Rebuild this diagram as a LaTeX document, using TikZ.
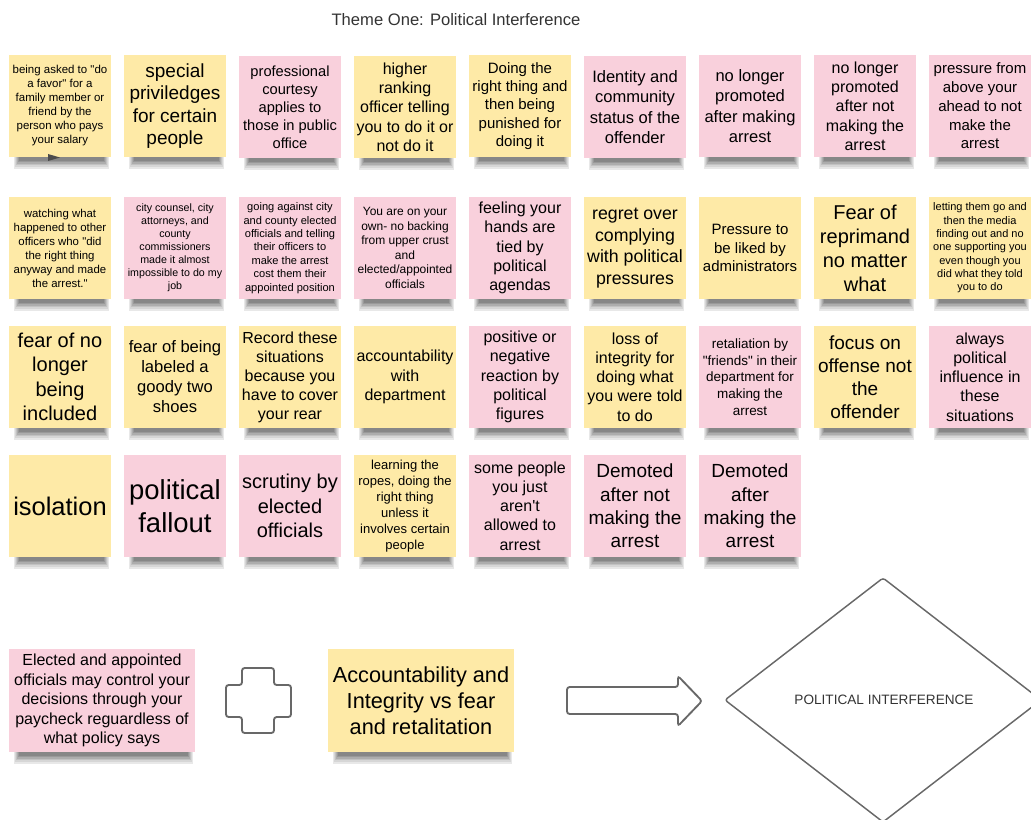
\documentclass[tikz,border=0pt]{standalone}
\usepackage{fontspec}
\setmainfont{Liberation Sans}[Ligatures=TeXOff]
\definecolor{stickyY}{HTML}{FEEAA7}
\definecolor{stickyP}{HTML}{F9D0DC}
\definecolor{inkgray}{HTML}{333333}
\definecolor{linegray}{HTML}{686868}
\newcommand\fs[2]{\fontsize{#1pt}{#2pt}\selectfont}
\begin{document}
\begin{tikzpicture}[x=0.75pt,y=-0.75pt,
  note/.style={minimum width=76.5pt, minimum height=76.5pt, inner sep=0pt,
               align=center, text=black},
  yel/.style={note, fill=stickyY},
  pnk/.style={note, fill=stickyP},
  wide/.style={minimum width=139.5pt, minimum height=77.25pt},
  outline/.style={draw=linegray, line width=1.4pt, rounded corners=2pt}]
\useasboundingbox (0,0) rectangle (1031,820);

\node[text=inkgray, font={\fs{12.45}{15}}] (title) at (456,20) {Theme One: Political Interference};

% row 1
\node[yel, font={\fs{8.6}{10.5}}]   (n1) at (60,106)  {being asked to "do\\a favor" for a\\family member or\\friend by the\\person who pays\\your salary};
\node[yel, font={\fs{14.25}{16.9}}] (n2) at (175,106) {special\\priviledges\\for certain\\people};
\node[pnk, font={\fs{11}{13.5}}]    (n3) at (290,107) {professional\\courtesy\\applies to\\those in public\\office};
\node[yel, font={\fs{12}{14.5}}]    (n4) at (405,107) {higher\\ranking\\officer telling\\you to do it or\\not do it};
\node[yel, font={\fs{11.25}{13.8}}] (n5) at (520,106) {Doing the\\right thing and\\then being\\punished for\\doing it};
\node[pnk, font={\fs{12.4}{15.4}}]  (n6) at (635,107) {Identity and\\community\\status of the\\offender};
\node[pnk, font={\fs{12.4}{15.4}}]  (n7) at (750,106) {no longer\\promoted\\after making\\arrest};
\node[pnk, font={\fs{12}{14.5}}]    (n8) at (865,106) {no longer\\promoted\\after not\\making the\\arrest};
\node[pnk, font={\fs{11.25}{14.1}}] (n9) at (980,106) {pressure from\\above your\\ahead to not\\make the\\arrest};

% row 2
\node[yel, font={\fs{8.55}{10.5}}]  (n10) at (60,248)  {watching what\\happened to other\\officers who "did\\the right thing\\anyway and made\\the arrest."};
\node[pnk, font={\fs{8}{9.7}}]      (n11) at (175,248) {city counsel, city\\attorneys, and\\county\\commissioners\\made it almost\\impossible to do my\\job};
\node[pnk, font={\fs{8.3}{10.05}}]  (n12) at (290,248) {going against city\\and county elected\\officials and telling\\their officers to\\make the arrest\\cost them their\\appointed position};
\node[pnk, font={\fs{9}{10.9}}]     (n13) at (405,248) {You are on your\\own- no backing\\from upper crust\\and\\elected/appointed\\officials};
\node[pnk, font={\fs{12}{14.4}}]    (n14) at (520,248) {feeling your\\hands are\\tied by\\political\\agendas};
\node[yel, font={\fs{13.3}{16.2}}]  (n15) at (635,248) {regret over\\complying\\with political\\pressures};
\node[yel, font={\fs{11.25}{13.7}}] (n16) at (750,248) {Pressure to\\be liked by\\administrators};
\node[yel, font={\fs{15}{18}}]      (n17) at (865,248) {Fear of\\reprimand\\no matter\\what};
\node[yel, font={\fs{8.25}{10}}]    (n18) at (980,248) {letting them go and\\then the media\\finding out and no\\one supporting you\\even though you\\did what they told\\you to do};

% row 3
\node[yel, font={\fs{15}{18.3}}]    (n19) at (60,377)  {fear of no\\longer\\being\\included};
\node[yel, font={\fs{12.45}{15}}]   (n20) at (175,377) {fear of being\\labeled a\\goody two\\shoes};
\node[yel, font={\fs{12}{14.25}}]   (n21) at (290,377) {Record these\\situations\\because you\\have to cover\\your rear};
\node[yel, font={\fs{12}{14.4}}]    (n22) at (405,377) {accountability\\with\\department};
\node[pnk, font={\fs{12}{14.4}}]    (n23) at (520,377) {positive or\\negative\\reaction by\\political\\figures};
\node[yel, font={\fs{12}{14.4}}]    (n24) at (635,377) {loss of\\integrity for\\doing what\\you were told\\to do};
\node[pnk, font={\fs{10.1}{12.5}}]  (n25) at (750,377) {retaliation by\\"friends" in their\\department for\\making the\\arrest};
\node[yel, font={\fs{14.25}{17.25}}] (n26) at (865,377) {focus on\\offense not\\the\\offender};
\node[pnk, font={\fs{12}{14.4}}]    (n27) at (980,377) {always\\political\\influence in\\these\\situations};

% row 4
\node[yel, font={\fs{19.1}{23}}]    (n28) at (60,506)  {isolation};
\node[pnk, font={\fs{20.6}{25}}]    (n29) at (175,506) {political\\fallout};
\node[pnk, font={\fs{15}{18.15}}]   (n30) at (290,506) {scrutiny by\\elected\\officials};
\node[yel, font={\fs{9.75}{11.9}}]  (n31) at (405,506) {learning the\\ropes, doing the\\right thing\\unless it\\involves certain\\people};
\node[pnk, font={\fs{12}{14.4}}]    (n32) at (520,506) {some people\\you just\\aren't\\allowed to\\arrest};
\node[pnk, font={\fs{14.25}{17.5}}] (n33) at (635,506) {Demoted\\after not\\making the\\arrest};
\node[pnk, font={\fs{14.25}{17.5}}] (n34) at (750,506) {Demoted\\after\\making the\\arrest};

% bottom equation
\node[pnk, wide, font={\fs{12}{14.7}}]   (control) at (102,700.5) {Elected and appointed\\officials may control your\\decisions through your\\paycheck reguardless of\\what policy says};
\node[yel, wide, font={\fs{16.3}{19.5}}] (account) at (421,700.5) {Accountability and\\Integrity vs fear\\and retalitation};

% soft shadows below each note: strips from light and wide to dark and narrow
\foreach \nm in {n1,n2,n3,n4,n5,n6,n7,n8,n9,n10,n11,n12,n13,n14,n15,n16,n17,n18,n19,n20,n21,n22,n23,n24,n25,n26,n27,n28,n29,n30,n31,n32,n33,n34,control,account}{
  \foreach \sj/\sg in {1/9,2/16,3/24,4/32,5/40,6/47}{
    \fill[black!\sg]
      ([xshift={(4+\sj)*0.75pt}]\nm.south west) rectangle
      ([xshift={-(1+\sj)*0.75pt}, yshift={-(13-1.6*\sj)*0.75pt}]\nm.south east);
  }
}
\fill[black!70] (48,154) -- (60,157.5) -- (48,161) -- cycle;

% plus sign
\draw[outline] (242,668) -- (274,668) -- (274,685) -- (291,685) -- (291,717)
  -- (274,717) -- (274,733) -- (242,733) -- (242,717) -- (226,717)
  -- (226,685) -- (242,685) -- cycle;

% block arrow
\draw[outline] (567,687) -- (678,687) -- (678,676) -- (702,701) -- (678,726)
  -- (678,714) -- (567,714) -- cycle;

% decision diamond
\begin{scope}
\clip (0,0) rectangle (1031,820);
\draw[draw=linegray, line width=1.1pt, rounded corners=2pt]
  (725,700) -- (883,578) -- (1041,700) -- (883,822) -- cycle;
\end{scope}
\node[text=inkgray, font={\fs{10.2}{12}}] (theme) at (884,700) {POLITICAL INTERFERENCE};
\end{tikzpicture}
\end{document}
